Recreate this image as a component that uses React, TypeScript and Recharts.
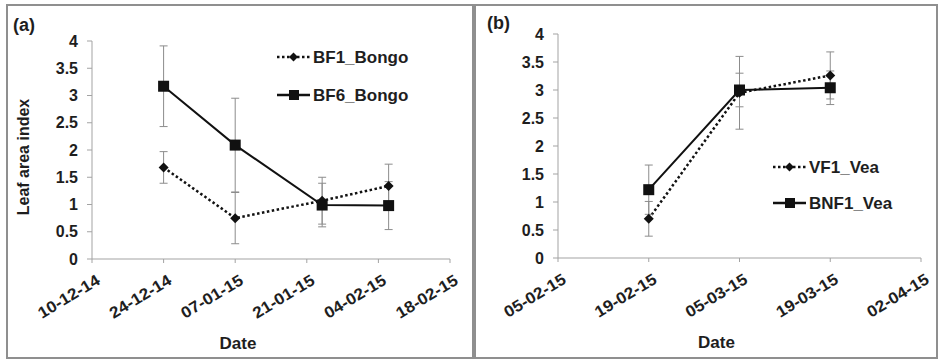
import React from 'react';
import { LineChart, Line, XAxis, YAxis, ErrorBar, Legend } from 'recharts';

// ---------- data ----------
const datesA = ['24-12-14', '07-01-15', '24-01-15', '06-02-15'];
const bf1Bongo = [1.68, 0.75, 1.07, 1.34];
const bf1BongoErr = [0.29, 0.47, 0.43, 0.4];
const bf6Bongo = [3.17, 2.09, 0.99, 0.98];
const bf6BongoErr = [0.74, 0.86, 0.4, 0.44];
const xTicksA = ['10-12-14', '24-12-14', '07-01-15', '21-01-15', '04-02-15', '18-02-15'];

const datesB = ['19-02-15', '05-03-15', '19-03-15'];
const vf1Vea = [0.7, 2.95, 3.26];
const vf1VeaErr = [0.31, 0.65, 0.42];
const bnf1Vea = [1.22, 3.0, 3.04];
const bnf1VeaErr = [0.44, 0.3, 0.3];
const xTicksB = ['05-02-15', '19-02-15', '05-03-15', '19-03-15', '02-04-15'];

const yTicks = [0, 0.5, 1, 1.5, 2, 2.5, 3, 3.5, 4];

// ---------- helpers ----------
const toDay = (s: string) => {
  const [d, m, y] = s.split('-').map(Number);
  return Date.UTC(2000 + y, m - 1, d) / 86400000;
};
const labelOf = (ticks: string[]) => {
  const map: Record<number, string> = {};
  ticks.forEach((t) => (map[toDay(t)] = t));
  return map;
};

const dataA = datesA.map((d, i) => ({
  t: toDay(d),
  bf1: bf1Bongo[i],
  bf1Err: bf1BongoErr[i],
  bf6: bf6Bongo[i],
  bf6Err: bf6BongoErr[i],
}));
const dataB = datesB.map((d, i) => ({
  t: toDay(d),
  vf1: vf1Vea[i],
  vf1Err: vf1VeaErr[i],
  bnf1: bnf1Vea[i],
  bnf1Err: bnf1VeaErr[i],
}));

const FONT = '"Liberation Sans", Arial, sans-serif';
const TXT = '#1e1e1e';
const AXIS = '#a3a3a3';
const ERR = '#8c8c8c';
const LINE = '#111';

const Diamond = (props: any) => {
  const { cx, cy, key } = props;
  if (cx == null || cy == null) return null;
  const r = 5;
  return (
    <path key={key} d={`M${cx},${cy - r}L${cx + r},${cy}L${cx},${cy + r}L${cx - r},${cy}Z`} fill={LINE} stroke="none" />
  );
};
const Square = (props: any) => {
  const { cx, cy, key } = props;
  if (cx == null || cy == null) return null;
  const s = 11;
  return <rect key={key} x={cx - s / 2} y={cy - s / 2} width={s} height={s} fill={LINE} stroke="none" />;
};

const makeDateTick = (labels: Record<number, string>) => (props: any) => {
  const { x, y, payload } = props;
  return (
    <g transform={`translate(${x + 3},${y + 8})`}>
      <text
        x={0}
        y={0}
        dy={12}
        textAnchor="end"
        transform="rotate(-31) scale(1.08,1)"
        fontFamily={FONT}
        fontWeight="bold"
        fontSize={16}
        fill={TXT}
      >
        {labels[payload.value] ?? ''}
      </text>
    </g>
  );
};

const yTickStyle = { fontFamily: FONT, fontWeight: 'bold', fontSize: 16, fill: TXT };

type LegendItem = { name: string; dashed: boolean; shape: 'diamond' | 'square' };

const makeLegend = (items: LegendItem[], rowGap: number) => () => (
  <svg width={150} height={rowGap * items.length} style={{ overflow: 'visible', display: 'block' }}>
    {items.map((it, i) => {
      const cy = rowGap / 2 + i * rowGap;
      return (
        <g key={it.name}>
          <line
            x1={0}
            x2={33}
            y1={cy}
            y2={cy}
            stroke={LINE}
            strokeWidth={2.5}
            strokeDasharray={it.dashed ? '2.5 2.5' : undefined}
          />
          {it.shape === 'diamond' ? (
            <path d={`M16.5,${cy - 4.5}L21,${cy}L16.5,${cy + 4.5}L12,${cy}Z`} fill={LINE} />
          ) : (
            <rect x={12} y={cy - 5} width={10} height={10} fill={LINE} />
          )}
          <text x={36} y={cy} dy={6} fontFamily={FONT} fontWeight="bold" fontSize={17} fill={TXT}>
            {it.name}
          </text>
        </g>
      );
    })}
  </svg>
);

const makeYLabel = (text: string, dxFromLeft: number, dyFromCenter: number) => (props: any) => {
  const vb = props.viewBox || {};
  const cx = (vb.x ?? 0) + dxFromLeft;
  const cy = (vb.y ?? 0) + (vb.height ?? 0) / 2 + dyFromCenter;
  return (
    <text
      x={cx}
      y={cy}
      transform={`rotate(-90, ${cx}, ${cy})`}
      textAnchor="middle"
      dominantBaseline="central"
      fontFamily={FONT}
      fontWeight="bold"
      fontSize={16}
      fill={TXT}
    >
      {text}
    </text>
  );
};

const makeXLabel = (text: string, dxFromCenter: number, dyFromTop: number) => (props: any) => {
  const vb = props.viewBox || {};
  const cx = (vb.x ?? 0) + (vb.width ?? 0) / 2 + dxFromCenter;
  const cy = (vb.y ?? 0) + dyFromTop;
  return (
    <text x={cx} y={cy} textAnchor="middle" dominantBaseline="central" fontFamily={FONT} fontWeight="bold" fontSize={17} fill={TXT}>
      {text}
    </text>
  );
};

const ticksANum = xTicksA.map(toDay);
const ticksBNum = xTicksB.map(toDay);
const labelsA = labelOf(xTicksA);
const labelsB = labelOf(xTicksB);

const PanelA = () => (
  <LineChart width={468} height={355} data={dataA} margin={{ top: 36, right: 25, left: 0, bottom: 0 }}>
    <XAxis
      type="number"
      dataKey="t"
      domain={[ticksANum[0], ticksANum[ticksANum.length - 1]]}
      ticks={ticksANum}
      interval={0}
      height={101}
      stroke={AXIS}
      tickLine={{ stroke: AXIS }}
      tickSize={4}
      tick={makeDateTick(labelsA)}
      label={{ content: makeXLabel('Date', -33, 84) }}
    />
    <YAxis
      type="number"
      domain={[0, 4]}
      ticks={yTicks}
      interval={0}
      width={85}
      stroke={AXIS}
      tickLine={{ stroke: AXIS }}
      tickSize={5}
      tickMargin={9}
      tick={yTickStyle}
      label={{ content: makeYLabel('Leaf area index', 16, 7) }}
    />
    <Legend
      layout="horizontal"
      verticalAlign="middle"
      align="center"
      content={makeLegend(
        [
          { name: 'BF1_Bongo', dashed: true, shape: 'diamond' },
          { name: 'BF6_Bongo', dashed: false, shape: 'square' },
        ],
        38
      )}
      wrapperStyle={{ position: 'absolute', left: 270, top: 33, width: 150, bottom: 'auto', right: 'auto' }}
    />
    <Line
      type="linear"
      dataKey="bf1"
      stroke={LINE}
      strokeWidth={2.5}
      strokeDasharray="2.5 2.5"
      dot={Diamond}
      activeDot={false}
      isAnimationActive={false}
    >
      <ErrorBar dataKey="bf1Err" direction="y" width={4} stroke={ERR} strokeWidth={1} />
    </Line>
    <Line
      type="linear"
      dataKey="bf6"
      stroke={LINE}
      strokeWidth={2}
      dot={Square}
      activeDot={false}
      isAnimationActive={false}
    >
      <ErrorBar dataKey="bf6Err" direction="y" width={4} stroke={ERR} strokeWidth={1} />
    </Line>
  </LineChart>
);

const PanelB = () => (
  <LineChart width={463} height={355} data={dataB} margin={{ top: 29, right: 17, left: 0, bottom: 0 }}>
    <XAxis
      type="number"
      dataKey="t"
      domain={[ticksBNum[0], ticksBNum[ticksBNum.length - 1]]}
      ticks={ticksBNum}
      interval={0}
      height={102}
      stroke={AXIS}
      tickLine={{ stroke: AXIS }}
      tickSize={4}
      tick={makeDateTick(labelsB)}
      label={{ content: makeXLabel('Date', -23, 84) }}
    />
    <YAxis
      type="number"
      domain={[0, 4]}
      ticks={yTicks}
      interval={0}
      width={83}
      stroke={AXIS}
      tickLine={{ stroke: AXIS }}
      tickSize={5}
      tickMargin={9}
      tick={yTickStyle}
    />
    <Legend
      layout="horizontal"
      verticalAlign="middle"
      align="center"
      content={makeLegend(
        [
          { name: 'VF1_Vea', dashed: true, shape: 'diamond' },
          { name: 'BNF1_Vea', dashed: false, shape: 'square' },
        ],
        36
      )}
      wrapperStyle={{ position: 'absolute', left: 298, top: 144, width: 150, bottom: 'auto', right: 'auto' }}
    />
    <Line
      type="linear"
      dataKey="vf1"
      stroke={LINE}
      strokeWidth={2.5}
      strokeDasharray="2.5 2.5"
      dot={Diamond}
      activeDot={false}
      isAnimationActive={false}
    >
      <ErrorBar dataKey="vf1Err" direction="y" width={4} stroke={ERR} strokeWidth={1} />
    </Line>
    <Line
      type="linear"
      dataKey="bnf1"
      stroke={LINE}
      strokeWidth={2}
      dot={Square}
      activeDot={false}
      isAnimationActive={false}
    >
      <ErrorBar dataKey="bnf1Err" direction="y" width={4} stroke={ERR} strokeWidth={1} />
    </Line>
  </LineChart>
);

export default function App() {
  return (
    <div
      style={{
        position: 'fixed',
        left: 0,
        top: 0,
        width: 940,
        height: 361,
        background: '#fff',
        overflow: 'hidden',
      }}
    >
      <div
        style={{
          position: 'absolute',
          left: 6,
          top: 4,
          width: 468,
          height: 355,
          border: '2px solid #8f8f8f',
          boxSizing: 'border-box',
        }}
      />
      <div
        style={{
          position: 'absolute',
          left: 474,
          top: 4,
          width: 464,
          height: 355,
          border: '2px solid #8f8f8f',
          boxSizing: 'border-box',
        }}
      />
      <div style={{ position: 'absolute', left: 7, top: 5 }}>
        <PanelA />
      </div>
      <div style={{ position: 'absolute', left: 475, top: 5 }}>
        <PanelB />
      </div>
      <div
        style={{
          position: 'absolute',
          left: 13,
          top: 14,
          fontFamily: FONT,
          fontWeight: 'bold',
          fontSize: 18,
          color: TXT,
          lineHeight: '22px',
        }}
      >
        (a)
      </div>
      <div
        style={{
          position: 'absolute',
          left: 487,
          top: 12,
          fontFamily: FONT,
          fontWeight: 'bold',
          fontSize: 18,
          color: TXT,
          lineHeight: '22px',
        }}
      >
        (b)
      </div>
    </div>
  );
}
